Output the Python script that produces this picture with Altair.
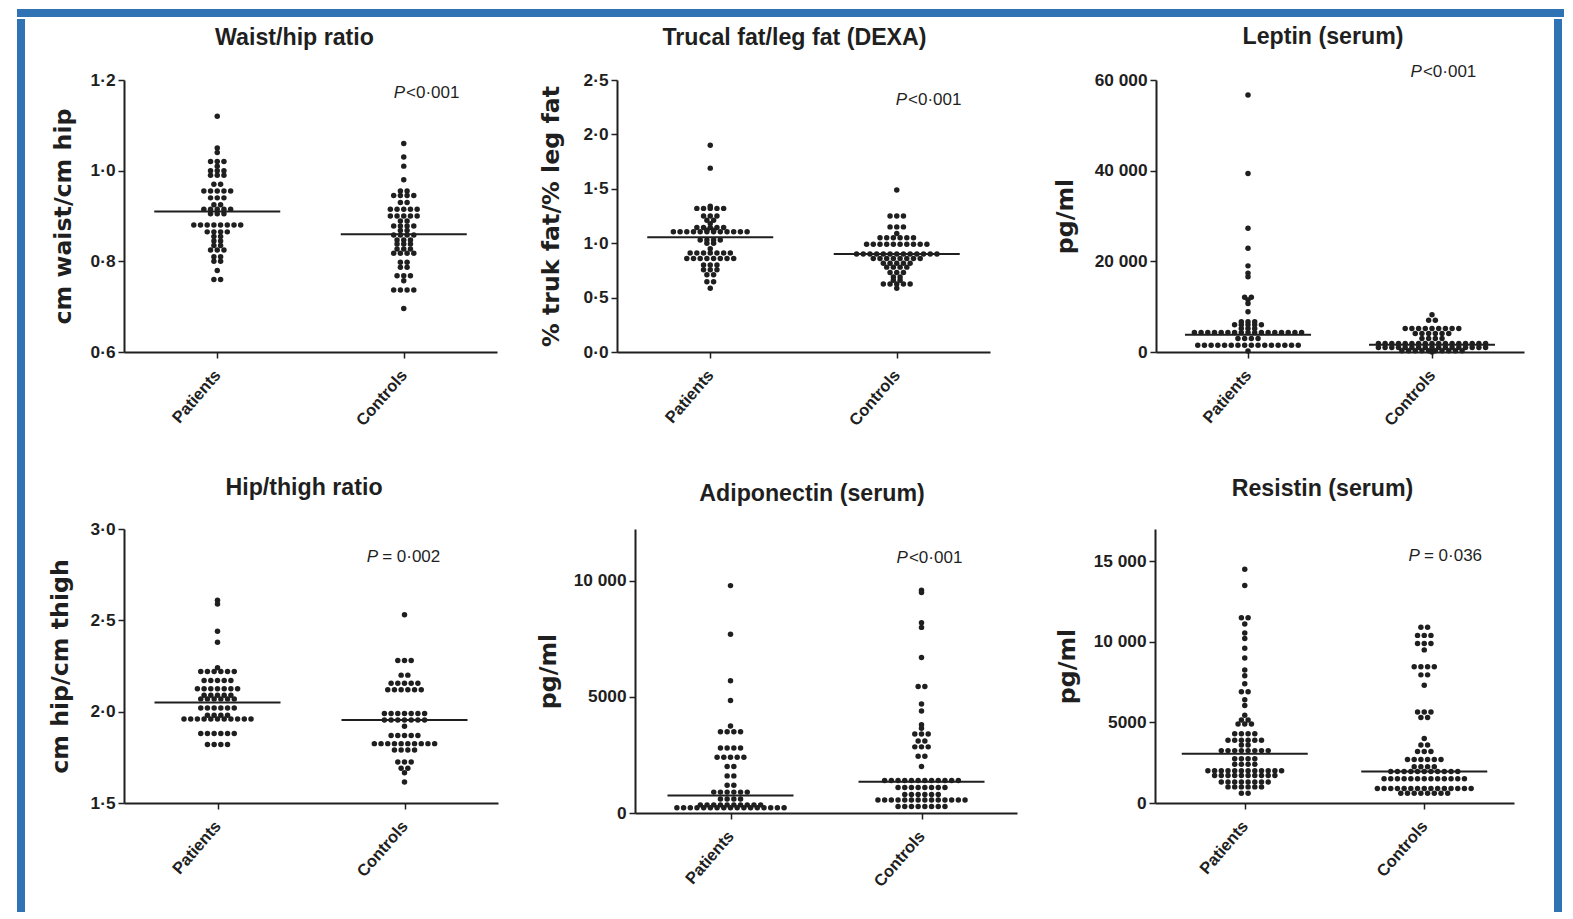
import json
import altair as alt
import pandas as pd

# ---------------- data ----------------
GROUPS = ["Patients", "Controls"]
CENTERS = [0.5, 1.5]

TITLES = ["Waist/hip ratio", "Trucal fat/leg fat (DEXA)", "Leptin (serum)",
          "Hip/thigh ratio", "Adiponectin (serum)", "Resistin (serum)"]
Y_TITLES = ["cm waist/cm hip", "% truk fat/% leg fat", "pg/ml",
            "cm hip/cm thigh", "pg/ml", "pg/ml"]
Y_DOMAINS = [[0.6, 1.2], [0, 2.5], [0, 60000], [1.5, 3.0], [0, 12240], [0, 17000]]
Y_TICKS = [[0.6, 0.8, 1.0, 1.2], [0, 0.5, 1.0, 1.5, 2.0, 2.5], [0, 20000, 40000, 60000],
           [1.5, 2.0, 2.5, 3.0], [0, 5000, 10000], [0, 5000, 10000, 15000]]
Y_TICK_LABELS = [["0·6", "0·8", "1·0", "1·2"],
                 ["0·0", "0·5", "1·0", "1·5", "2·0", "2·5"],
                 ["0", "20 000", "40 000", "60 000"],
                 ["1·5", "2·0", "2·5", "3·0"],
                 ["0", "5000", "10 000"],
                 ["0", "5000", "10 000", "15 000"]]
P_REST = ["<0·001", "<0·001", "<0·001", "= 0·002", "<0·001", "= 0·036"]
P_X = [1.507, 1.555, 1.445, 1.359, 1.429, 1.476]
P_Y = [1.171, 2.316, 61770, 2.846, 10970, 15310]
MEDIANS_PATIENTS = [0.91, 1.055, 3800, 2.05, 750, 3050]
MEDIANS_CONTROLS = [0.86, 0.90, 1600, 1.955, 1350, 1950]

waist_hip_patients = ([1.12, 1.05, 1.04] + [1.02] * 3 + [1.01] + [1.0] * 3 + [0.99] * 3 +
                      [0.97] * 2 + [0.955] * 5 + [0.94] * 3 + [0.925] * 2 + [0.915] * 5 +
                      [0.905] * 3 + [0.88] * 8 + [0.865] * 4 + [0.855] * 2 + [0.845] * 2 +
                      [0.835] * 2 + [0.825] * 3 + [0.81] * 2 + [0.80] * 2 + [0.78] + [0.76] * 2)
waist_hip_controls = ([1.06, 1.03, 1.01, 0.98] + [0.955] * 2 + [0.945] * 4 + [0.93] * 2 +
                      [0.915] * 5 + [0.90] * 5 + [0.889] * 2 + [0.878] * 4 + [0.868] * 2 +
                      [0.858] * 4 + [0.847] * 3 + [0.838] * 3 + [0.827] * 3 + [0.818] * 4 +
                      [0.798] * 2 + [0.787] * 2 + [0.768] * 3 + [0.757] + [0.737] * 4 + [0.696])

trunk_leg_patients = ([1.90, 1.69, 1.34] + [1.32] * 5 + [1.25] * 3 + [1.21] * 2 + [1.18] +
                      [1.145] * 5 + [1.12] * 2 + [1.105] * 12 + [1.03] * 4 + [1.00] * 2 +
                      [0.95] + [0.91] * 7 + [0.86] * 8 + [0.80] * 3 + [0.755] * 3 +
                      [0.71] * 2 + [0.645] * 2 + [0.585])
trunk_leg_controls = ([1.49] + [1.25] * 3 + [1.15] * 3 + [1.09] + [1.05] * 6 + [0.99] * 10 +
                      [0.90] * 13 + [0.86] * 8 + [0.815] * 5 + [0.78] * 4 + [0.73] * 3 +
                      [0.69] * 2 + [0.66] * 2 + [0.625] * 5 + [0.585])

leptin_patients = ([56700, 39400, 27300, 22900, 19000, 17400, 16600] + [12100] * 2 +
                   [11500, 10700, 8900] + [6700] * 3 + [6000] * 5 + [5200] * 3 +
                   [4300] * 17 + [3000] * 4 + [1500] * 16 + [200])
leptin_controls = ([8200] + [7000] * 2 + [5200] * 9 + [4100] * 6 + [3000] * 4 +
                   [1900] * 17 + [1000] * 17 + [300] * 10 + [0])

hip_thigh_patients = ([2.61, 2.59, 2.44, 2.38, 2.24] + [2.22] * 6 + [2.17] * 5 +
                      [2.125] * 7 + [2.09] * 5 + [2.07] * 6 + [2.02] * 6 + [1.98] * 4 +
                      [1.96] * 11 + [1.88] * 6 + [1.82] * 4)
hip_thigh_controls = ([2.53] + [2.28] * 3 + [2.20] * 2 + [2.155] * 5 + [2.12] * 6 +
                      [1.99] * 7 + [1.955] * 7 + [1.92] + [1.87] * 5 + [1.825] * 10 +
                      [1.79] * 4 + [1.725] * 3 + [1.69] * 2 + [1.665] + [1.615])

adipo_patients = ([9800, 7700, 5700, 4850, 3750] + [3500] * 4 + [2800] * 4 + [2400] * 5 +
                  [2000] * 2 + [1600] * 2 + [1200] * 2 + [900] * 6 + [600] * 4 +
                  [350] * 10 + [230] * 17)
adipo_controls = ([9600, 9500, 8200, 8000, 6700] + [5450] * 2 + [4700, 4400, 3800, 3650] +
                  [3400] * 3 + [3100] * 2 + [2850] * 3 + [2450] * 2 + [2000] +
                  [1400] * 12 + [1100] * 8 + [800] * 6 + [560] * 14 + [280] * 8)

resistin_patients = ([14500, 13500] + [11500] * 2 + [11100, 10550, 10200, 9600, 9000, 8250,
                     7900, 7400] + [6900] * 2 + [6400, 6050, 5450] + [5150] * 2 +
                     [4900] * 3 + [4300] * 4 + [3900] * 6 + [3600] * 2 + [3250] * 8 +
                     [2750] * 4 + [2400] * 4 + [2000] * 12 + [1700] * 10 + [1300] * 8 +
                     [1000] * 6 + [600] * 2)
resistin_controls = ([10900] * 2 + [10400] * 3 + [9900] * 3 + [9500] + [8450] * 4 +
                     [7950] * 2 + [7300] + [5650] * 3 + [5300] * 2 + [4000] + [3600] * 2 +
                     [3200] * 3 + [2700] * 6 + [2250] * 4 + [1950] * 11 + [1500] * 13 +
                     [900] * 15 + [600] * 8)

PANEL_DATA = [(waist_hip_patients, waist_hip_controls),
              (trunk_leg_patients, trunk_leg_controls),
              (leptin_patients, leptin_controls),
              (hip_thigh_patients, hip_thigh_controls),
              (adipo_patients, adipo_controls),
              (resistin_patients, resistin_controls)]

# ---------------- layout / style ----------------
WIDTHS = [373, 373, 368, 374, 382, 359]
HEIGHTS = [272, 272, 272, 274, 284, 274]
EXTENTS = [43, 48, 73, 46, 69, 70]
TITLE_DX = [-16, -9, -17, -7, -14, -12]
TITLE_OFFSETS = [21, 21, 14, 20, 23, 28]
RIGHT_PAD = [0, 21, 7, 0, 0, 0]
P_DX = [1, 1, 1, 4, 1, 4]
X_DOMAIN = [0, 2]
DOT_SPACING_PX = 6.7
MEDIAN_HALF_PX = 63
BLUE = "#2f73b4"
INK = "#1f1f1f"
FONT = "Liberation Sans"
FRAME_H = 893


def swarm_x(values, center, width):
    """Spread identical values into a horizontal row centred on the category."""
    counts = {}
    for v in values:
        counts[v] = counts.get(v, 0) + 1
    seen = {}
    xs = []
    span = X_DOMAIN[1] - X_DOMAIN[0]
    for v in values:
        n = counts[v]
        i = seen.get(v, 0)
        seen[v] = i + 1
        off_px = (i - (n - 1) / 2) * DOT_SPACING_PX
        xs.append(center + off_px * span / width)
    return xs


def panel(k):
    w, h = WIDTHS[k], HEIGHTS[k]
    span = X_DOMAIN[1] - X_DOMAIN[0]
    rows = []
    for g, c, vals in zip(GROUPS, CENTERS, PANEL_DATA[k]):
        for x, v in zip(swarm_x(vals, c, w), vals):
            rows.append({"x": x, "v": v, "group": g})
    pts = pd.DataFrame(rows)
    half = MEDIAN_HALF_PX * span / w
    med = pd.DataFrame({"x": [c - half for c in CENTERS],
                        "x2": [c + half for c in CENTERS],
                        "v": [MEDIANS_PATIENTS[k], MEDIANS_CONTROLS[k]]})
    ptxt = pd.DataFrame({"x": [P_X[k]], "v": [P_Y[k]], "p": ["P"], "rest": [P_REST[k]]})

    x_axis = alt.Axis(values=CENTERS,
                      labelExpr=f"{json.dumps(GROUPS)}[indexof({json.dumps(CENTERS)}, datum.value)]",
                      labelAngle=311, labelAlign="right", labelBaseline="middle",
                      labelPadding=14, labelFontSize=16.5, labelFont=FONT, labelFontWeight="bold",
                      labelFlush=False, labelOverlap=False, title="")
    y_axis = alt.Axis(values=Y_TICKS[k],
                      labelExpr=f"{json.dumps(Y_TICK_LABELS[k])}[indexof({json.dumps(Y_TICKS[k])}, datum.value)]",
                      labelFontSize=17.3, labelFont=FONT, labelFontWeight="bold", labelPadding=3,
                      labelOverlap=False,
                      minExtent=EXTENTS[k], maxExtent=EXTENTS[k], titlePadding=6,
                      titleFont="DejaVu Sans", titleFontSize=23.7, titleFontWeight="bold",
                      title=Y_TITLES[k])
    xenc = alt.X("x:Q", scale=alt.Scale(domain=X_DOMAIN, nice=False, zero=False), axis=x_axis)
    yenc = alt.Y("v:Q", scale=alt.Scale(domain=Y_DOMAINS[k], nice=False, zero=False), axis=y_axis)

    dots = alt.Chart(pts).mark_circle(size=30, color=INK, opacity=1).encode(x=xenc, y=yenc)
    lines = alt.Chart(med).mark_rule(color=INK, strokeWidth=2).encode(x=xenc, x2="x2:Q", y=yenc)
    ptext = alt.Chart(ptxt).mark_text(align="right", baseline="middle", font=FONT, fontSize=17,
                                      fontStyle="italic", color=INK).encode(x=xenc, y=yenc, text="p:N")
    rtext = alt.Chart(ptxt).mark_text(align="left", baseline="middle", font=FONT, fontSize=17,
                                      dx=P_DX[k], color=INK).encode(x=xenc, y=yenc, text="rest:N")
    layers = [dots, lines, ptext, rtext]
    if RIGHT_PAD[k]:
        # invisible layout spacer widening the gap to the next panel
        layers.append(alt.Chart(pd.DataFrame({"a": [0]})).mark_rule(opacity=0, color="white").encode(
            x=alt.value(w + RIGHT_PAD[k]), y=alt.value(0), y2=alt.value(2)))
    return alt.layer(*layers).properties(
        width=w, height=h,
        title=alt.TitleParams(TITLES[k], font=FONT, fontSize=23.2, fontWeight="bold", color=INK,
                              anchor="middle", frame="group", offset=TITLE_OFFSETS[k],
                              dx=TITLE_DX[k]))


def block(w, h, color, opacity=1):
    return alt.Chart(pd.DataFrame({"a": [0]})).mark_rect(color=color, opacity=opacity).encode(
        x=alt.value(0), x2=alt.value(w), y=alt.value(0), y2=alt.value(h)
    ).properties(width=w, height=h)


row1 = alt.hconcat(panel(0), panel(1), panel(2), spacing=40)
row2 = alt.hconcat(panel(3), panel(4), panel(5), spacing=36)
rows = alt.vconcat(row1, row2, spacing=45)
body = alt.vconcat(block(10, 4, "white", 0), rows, spacing=0)
middle = alt.hconcat(block(8, FRAME_H, BLUE), body, block(8, FRAME_H, BLUE), spacing=21)
chart = alt.vconcat(block(1547, 8, BLUE), middle, spacing=0).properties(
    padding={"left": 8, "top": 0, "right": 0, "bottom": 0},
    background="white",
).configure_view(stroke="transparent").configure_axis(
    grid=False, domainColor=INK, domainWidth=2, tickColor=INK, tickWidth=1.5, tickSize=6,
    labelColor=INK, titleColor=INK)

chart.save("out.html", embed_options={"renderer": "svg", "actions": False})
